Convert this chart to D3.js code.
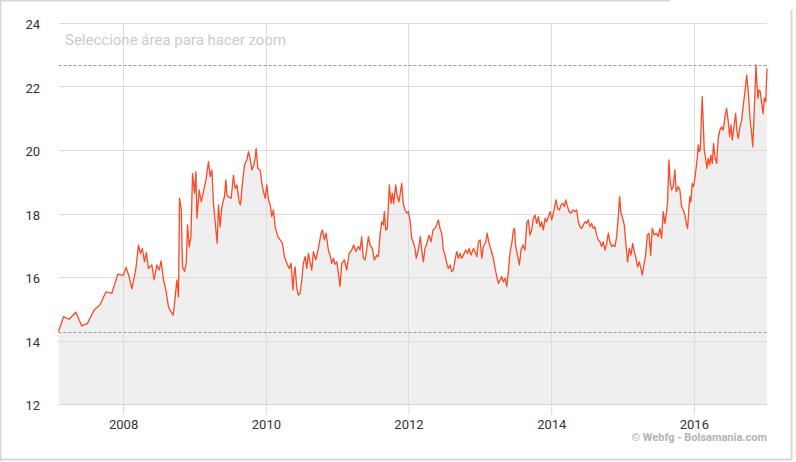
<!DOCTYPE html>
<html lang="es">
<head>
    <meta charset="UTF-8">
    <title>Cotización</title>
    <script src="https://cdn.jsdelivr.net/npm/d3@7"></script>
    <style>
        body { margin: 0; background: #fff; }
        svg { display: block; font-family: Roboto, "Open Sans", sans-serif; }
    </style>
</head>
<body>
    <svg id="chart" width="796" height="462"></svg>

    <script>
        // Fechas en años decimales
        const years = [
            2007.094, 2007.164, 2007.243, 2007.337, 2007.421, 2007.500, 2007.594, 2007.678, 2007.758, 2007.842,
            2007.926, 2008.004, 2008.042, 2008.084, 2008.122, 2008.158, 2008.182, 2008.214, 2008.242, 2008.270,
            2008.298, 2008.326, 2008.354, 2008.402, 2008.434, 2008.472, 2008.504, 2008.532, 2008.565, 2008.598,
            2008.635, 2008.668, 2008.701, 2008.729, 2008.752, 2008.775, 2008.789, 2008.813, 2008.831, 2008.859,
            2008.883, 2008.901, 2008.925, 2008.949, 2008.971, 2008.999, 2009.019, 2009.033, 2009.065, 2009.093,
            2009.125, 2009.159, 2009.195, 2009.219, 2009.243, 2009.265, 2009.299, 2009.317, 2009.335, 2009.359,
            2009.383, 2009.419, 2009.439, 2009.453, 2009.475, 2009.513, 2009.545, 2009.569, 2009.593, 2009.625,
            2009.643, 2009.671, 2009.700, 2009.733, 2009.756, 2009.779, 2009.803, 2009.831, 2009.849, 2009.863,
            2009.887, 2009.920, 2009.943, 2009.966, 2009.990, 2010.013, 2010.036, 2010.060, 2010.083, 2010.106,
            2010.130, 2010.167, 2010.200, 2010.232, 2010.260, 2010.294, 2010.326, 2010.354, 2010.378, 2010.396,
            2010.410, 2010.434, 2010.456, 2010.480, 2010.504, 2010.526, 2010.550, 2010.574, 2010.596, 2010.620,
            2010.644, 2010.666, 2010.700, 2010.736, 2010.774, 2010.792, 2010.820, 2010.844, 2010.876, 2010.900,
            2010.924, 2010.947, 2010.970, 2010.994, 2011.017, 2011.040, 2011.064, 2011.101, 2011.134, 2011.167,
            2011.204, 2011.232, 2011.260, 2011.297, 2011.321, 2011.344, 2011.367, 2011.391, 2011.414, 2011.437,
            2011.461, 2011.493, 2011.521, 2011.555, 2011.577, 2011.601, 2011.625, 2011.647, 2011.661, 2011.681,
            2011.703, 2011.731, 2011.755, 2011.773, 2011.793, 2011.821, 2011.843, 2011.867, 2011.885, 2011.905,
            2011.927, 2011.951, 2011.979, 2011.997, 2012.021, 2012.045, 2012.067, 2012.091, 2012.109, 2012.137,
            2012.166, 2012.185, 2012.208, 2012.231, 2012.259, 2012.287, 2012.315, 2012.343, 2012.371, 2012.395,
            2012.418, 2012.441, 2012.465, 2012.488, 2012.512, 2012.535, 2012.558, 2012.582, 2012.605, 2012.628,
            2012.652, 2012.675, 2012.698, 2012.722, 2012.746, 2012.768, 2012.802, 2012.830, 2012.848, 2012.876,
            2012.908, 2012.932, 2012.956, 2012.978, 2013.002, 2013.026, 2013.048, 2013.082, 2013.100, 2013.128,
            2013.156, 2013.188, 2013.212, 2013.236, 2013.258, 2013.282, 2013.306, 2013.328, 2013.352, 2013.376,
            2013.398, 2013.422, 2013.446, 2013.468, 2013.483, 2013.502, 2013.530, 2013.553, 2013.576, 2013.600,
            2013.632, 2013.656, 2013.679, 2013.702, 2013.726, 2013.749, 2013.773, 2013.796, 2013.819, 2013.843,
            2013.866, 2013.889, 2013.913, 2013.936, 2013.959, 2013.983, 2014.007, 2014.029, 2014.053, 2014.067,
            2014.091, 2014.113, 2014.137, 2014.161, 2014.183, 2014.203, 2014.221, 2014.249, 2014.277, 2014.305,
            2014.333, 2014.357, 2014.379, 2014.403, 2014.427, 2014.449, 2014.473, 2014.497, 2014.519, 2014.543,
            2014.567, 2014.589, 2014.613, 2014.637, 2014.659, 2014.683, 2014.707, 2014.729, 2014.753, 2014.777,
            2014.800, 2014.823, 2014.847, 2014.870, 2014.893, 2014.917, 2014.940, 2014.959, 2014.978, 2014.996,
            2015.024, 2015.048, 2015.071, 2015.094, 2015.118, 2015.141, 2015.164, 2015.188, 2015.211, 2015.234,
            2015.258, 2015.276, 2015.300, 2015.324, 2015.346, 2015.370, 2015.394, 2015.416, 2015.444, 2015.472,
            2015.500, 2015.524, 2015.548, 2015.570, 2015.594, 2015.618, 2015.632, 2015.650, 2015.668, 2015.688,
            2015.710, 2015.734, 2015.752, 2015.780, 2015.804, 2015.828, 2015.850, 2015.874, 2015.898, 2015.912,
            2015.930, 2015.944, 2015.958, 2015.977, 2015.996, 2016.014, 2016.028, 2016.047, 2016.061, 2016.075,
            2016.089, 2016.103, 2016.117, 2016.131, 2016.145, 2016.164, 2016.183, 2016.201, 2016.220, 2016.238,
            2016.257, 2016.276, 2016.294, 2016.318, 2016.341, 2016.364, 2016.388, 2016.411, 2016.435, 2016.458,
            2016.481, 2016.500, 2016.519, 2016.537, 2016.561, 2016.585, 2016.603, 2016.621, 2016.645, 2016.669,
            2016.691, 2016.715, 2016.739, 2016.761, 2016.785, 2016.809, 2016.823, 2016.837, 2016.855, 2016.869,
            2016.883, 2016.897, 2016.911, 2016.929, 2016.949, 2016.967, 2016.985, 2017.005, 2017.023
        ];

        // Cierre (€)
        const prices = [
            14.28, 14.75, 14.67, 14.89, 14.46, 14.54, 14.96, 15.13, 15.53, 15.49,
            16.09, 16.05, 16.31, 16.01, 15.63, 16.01, 16.32, 17.00, 16.74, 16.90,
            16.48, 16.77, 16.27, 16.38, 15.91, 16.38, 16.22, 16.51, 15.91, 15.59,
            15.06, 14.91, 14.80, 15.38, 15.91, 15.38, 18.48, 18.16, 16.32, 16.17,
            16.43, 17.64, 16.95, 17.27, 19.26, 18.64, 19.32, 17.85, 18.74, 18.37,
            18.69, 19.06, 19.63, 19.16, 19.37, 18.32, 17.48, 17.06, 18.27, 17.58,
            18.22, 18.53, 19.06, 18.58, 18.53, 18.48, 19.21, 18.79, 18.90, 18.37,
            18.27, 18.95, 19.53, 19.69, 19.95, 19.74, 19.37, 19.53, 19.74, 20.05,
            19.42, 19.37, 18.95, 18.69, 18.48, 18.90, 18.43, 18.27, 17.90, 18.11,
            17.58, 17.27, 17.17, 17.06, 16.64, 16.43, 16.27, 16.43, 15.59, 16.12,
            16.32, 15.64, 15.43, 15.49, 15.91, 16.43, 16.64, 16.27, 16.74, 16.48,
            16.22, 16.80, 16.54, 16.90, 17.38, 17.48, 17.17, 17.38, 16.85, 16.69,
            16.43, 16.59, 16.40, 16.48, 16.12, 15.70, 16.43, 16.54, 16.22, 16.74,
            16.85, 17.01, 16.80, 16.96, 16.85, 17.27, 16.59, 16.54, 16.85, 17.27,
            17.01, 16.90, 16.54, 16.69, 16.64, 17.32, 17.74, 17.64, 18.06, 17.48,
            17.53, 18.90, 18.32, 18.64, 18.32, 18.90, 18.53, 18.37, 18.64, 18.95,
            18.32, 18.11, 18.01, 18.06, 17.80, 17.22, 17.11, 16.90, 16.59, 16.85,
            17.27, 16.85, 16.48, 16.90, 17.06, 17.32, 17.11, 17.48, 17.53, 17.64,
            17.80, 17.53, 17.38, 16.85, 16.69, 16.43, 16.27, 16.38, 16.17, 16.22,
            16.54, 16.80, 16.59, 16.74, 16.59, 16.69, 16.85, 16.74, 16.90, 16.69,
            16.90, 16.80, 16.64, 17.11, 17.17, 16.59, 16.96, 17.11, 17.38, 17.06,
            16.85, 16.59, 16.27, 16.01, 15.80, 15.91, 16.01, 15.85, 15.96, 15.70,
            16.17, 16.80, 17.06, 17.48, 17.53, 16.96, 16.64, 16.38, 16.85, 17.01,
            16.85, 17.69, 17.80, 17.32, 17.48, 17.85, 17.95, 17.69, 17.90, 17.58,
            17.74, 17.48, 17.85, 17.74, 17.90, 18.06, 17.80, 18.01, 18.27, 18.43,
            18.16, 18.11, 18.27, 18.32, 18.22, 18.43, 18.27, 18.06, 18.01, 18.11,
            18.06, 18.11, 17.74, 17.58, 17.53, 17.64, 17.74, 17.69, 17.80, 17.58,
            17.69, 17.53, 17.58, 17.32, 17.17, 17.11, 16.96, 17.11, 16.85, 17.06,
            17.38, 17.11, 16.96, 17.01, 16.96, 17.27, 17.90, 18.53, 18.01, 17.90,
            17.64, 17.01, 16.48, 16.90, 16.69, 17.06, 16.80, 16.59, 16.32, 16.48,
            16.27, 16.06, 16.38, 16.69, 17.32, 17.38, 16.69, 17.53, 17.32, 17.38,
            17.27, 17.53, 17.22, 18.06, 17.69, 18.06, 18.37, 19.69, 19.00, 18.74,
            18.85, 19.37, 18.69, 18.85, 18.74, 18.22, 18.11, 17.95, 17.64, 17.53,
            18.16, 18.53, 18.37, 18.95, 18.85, 19.11, 19.37, 19.74, 20.16, 19.95,
            20.00, 20.89, 21.68, 20.89, 20.00, 19.74, 19.42, 19.74, 19.53, 19.84,
            19.58, 20.21, 19.79, 19.58, 20.37, 20.63, 20.73, 20.63, 21.05, 21.31,
            20.89, 20.42, 20.79, 20.32, 20.73, 21.15, 20.58, 20.37, 20.73, 20.94,
            21.42, 21.84, 22.36, 21.84, 21.00, 20.52, 20.10, 20.79, 21.84, 22.68,
            22.05, 21.63, 21.89, 21.84, 21.47, 21.15, 21.63, 21.52, 22.57
        ];

        const yTicks = [12, 14, 16, 18, 20, 22, 24];
        const xTickYears = [2008, 2010, 2012, 2014, 2016];

        // año decimal -> Date
        function toDate(y) {
            const yr = Math.floor(y);
            const start = new Date(yr, 0, 1), end = new Date(yr + 1, 0, 1);
            return new Date(start.getTime() + (y - yr) * (end - start));
        }

        const data = years.map((y, i) => ({ date: toDate(y), value: prices[i] }));

        const svg = d3.select('#chart');
        const plotLeft = 58.5, plotRight = 767, plotTop = 23, plotBottom = 404;

        const x = d3.scaleTime()
            .domain(d3.extent(data, d => d.date))
            .range([plotLeft, plotRight]);
        const y = d3.scaleLinear()
            .domain([12, 24])
            .range([plotBottom, plotTop]);

        // marco
        svg.append('path')
            .attr('d', 'M0.5,461 L0.5,0.5 L670,0.5 M791.5,10 L791.5,459.5 L0,459.5')
            .attr('fill', 'none')
            .attr('stroke', '#d8d8d8')
            .attr('stroke-width', 2);

        // área
        const area = d3.area()
            .x(d => x(d.date))
            .y0(y(12))
            .y1(d => y(d.value));
        svg.append('path')
            .datum(data)
            .attr('d', area)
            .attr('fill', '#efefef');

        // rejilla horizontal
        svg.append('g')
            .selectAll('line')
            .data(yTicks.filter(t => t > 12))
            .join('line')
            .attr('x1', plotLeft)
            .attr('x2', plotRight)
            .attr('y1', d => Math.round(y(d)) + 0.5)
            .attr('y2', d => Math.round(y(d)) + 0.5)
            .attr('stroke', '#dddddd');

        // rejilla vertical
        svg.append('g')
            .selectAll('line')
            .data(xTickYears)
            .join('line')
            .attr('x1', d => Math.round(x(new Date(d, 0, 1))) + 0.5)
            .attr('x2', d => Math.round(x(new Date(d, 0, 1))) + 0.5)
            .attr('y1', plotTop)
            .attr('y2', plotBottom)
            .attr('stroke', '#dddddd');

        // línea de mínimo y máximo
        const minV = d3.min(prices), maxV = d3.max(prices);
        svg.append('g')
            .selectAll('line')
            .data([minV, maxV])
            .join('line')
            .attr('x1', plotLeft)
            .attr('x2', plotRight)
            .attr('y1', d => Math.round(y(d)) + 0.5)
            .attr('y2', d => Math.round(y(d)) + 0.5)
            .attr('stroke', '#999')
            .attr('stroke-dasharray', '3,2');

        // serie
        const line = d3.line()
            .x(d => x(d.date))
            .y(d => y(d.value));
        svg.append('path')
            .datum(data)
            .attr('d', line)
            .attr('fill', 'none')
            .attr('stroke', '#fb4a26')
            .attr('stroke-width', 1.3)
            .attr('stroke-linejoin', 'round');

        // eje x
        const xAxis = d3.axisBottom(x)
            .tickValues(xTickYears.map(d => new Date(d, 0, 1)))
            .tickFormat(d3.timeFormat('%Y'))
            .tickSize(10)
            .tickPadding(5);
        const gx = svg.append('g')
            .attr('transform', `translate(0,${plotBottom + 0.5})`)
            .call(xAxis);
        gx.select('.domain').attr('stroke', '#ccd6eb').attr('d', `M${plotLeft},0H${plotRight}`);
        gx.selectAll('.tick line').attr('stroke', '#ccd6eb');
        gx.selectAll('.tick text')
            .attr('fill', '#333')
            .style('font-size', '13px')
            .style('font-family', 'Roboto, sans-serif');

        // eje y (solo etiquetas)
        svg.append('g')
            .selectAll('text')
            .data(yTicks)
            .join('text')
            .attr('x', 40)
            .attr('y', d => y(d) + 6)
            .attr('text-anchor', 'end')
            .attr('fill', '#333')
            .style('font-size', '13px')
            .text(d => d);

        // textos
        svg.append('text')
            .attr('x', 65)
            .attr('y', 45)
            .attr('fill', '#cccccc')
            .style('font-size', '15px')
            .text('Seleccione área para hacer zoom');

        svg.append('text')
            .attr('x', 767)
            .attr('y', 441)
            .attr('text-anchor', 'end')
            .attr('fill', '#b3b3b3')
            .style('font-size', '11px')
            .style('font-weight', 'bold')
            .text('© Webfg - Bolsamania.com');
    </script>
</body>
</html>
